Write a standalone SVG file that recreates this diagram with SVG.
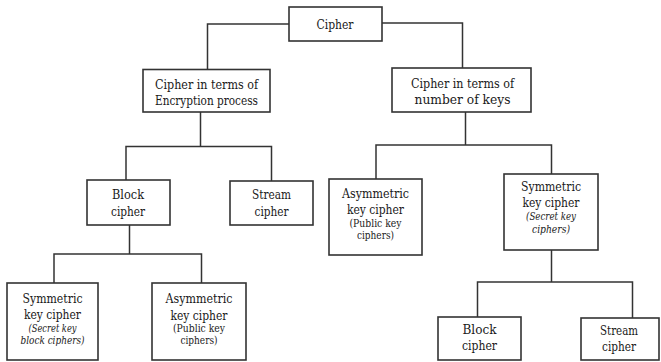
<svg xmlns="http://www.w3.org/2000/svg" width="661" height="362" viewBox="0 0 661 362">
<style>
rect.box{fill:#fff;stroke:#333;stroke-width:1.6}
text{fill:#1a1a1a;text-anchor:middle;font-family:"DejaVu Serif Condensed","DejaVu Serif",serif;font-stretch:condensed}
.m{font-size:13.8px}
.s{font-size:11px}
.i{font-style:italic}
#connectors path{fill:none;stroke:#333;stroke-width:1.5}
</style>
<rect width="661" height="362" fill="#fff"/>
<g id="connectors">
<path d="M289,24 H207.5 V69"/>
<path d="M382,23 H462.5 V68"/>
<path d="M200.5,112 V146.5"/>
<path d="M126,180 V146.5 H271.5 V181"/>
<path d="M129.5,225 V254"/>
<path d="M54,283 V254 H201.5 V283"/>
<path d="M465.5,112 V145"/>
<path d="M376,179 V145 H551.5 V174"/>
<path d="M551.5,250 V282"/>
<path d="M477.5,317 V282 H632.5 V318"/>
</g>
<g id="cipher">
<rect class="box" x="289" y="7" width="93" height="34"/>
<text class="m" x="335" y="28.5" textLength="37" lengthAdjust="spacingAndGlyphs">Cipher</text>
</g>
<g id="enc">
<rect class="box" x="143" y="69.5" width="127" height="42.5"/>
<text class="m" x="206.5" y="89" textLength="103" lengthAdjust="spacingAndGlyphs">Cipher in terms of</text>
<text class="m" x="206.5" y="105" textLength="103" lengthAdjust="spacingAndGlyphs">Encryption process</text>
</g>
<g id="keys">
<rect class="box" x="392" y="68" width="139" height="44"/>
<text class="m" x="462.5" y="88" textLength="103" lengthAdjust="spacingAndGlyphs">Cipher in terms of</text>
<text class="m" x="462.5" y="104" textLength="96" lengthAdjust="spacingAndGlyphs">number of keys</text>
</g>
<g id="block-l">
<rect class="box" x="87" y="180" width="83" height="45"/>
<text class="m" x="128" y="199" textLength="32" lengthAdjust="spacingAndGlyphs">Block</text>
<text class="m" x="128" y="216" textLength="34" lengthAdjust="spacingAndGlyphs">cipher</text>
</g>
<g id="stream-l">
<rect class="box" x="230" y="181" width="83" height="44"/>
<text class="m" x="271.5" y="199" textLength="39" lengthAdjust="spacingAndGlyphs">Stream</text>
<text class="m" x="271.5" y="216" textLength="34" lengthAdjust="spacingAndGlyphs">cipher</text>
</g>
<g id="sym-l">
<rect class="box" x="7" y="283" width="91" height="77"/>
<text class="m" x="52.5" y="303" textLength="60" lengthAdjust="spacingAndGlyphs">Symmetric</text>
<text class="m" x="52.5" y="319" textLength="57" lengthAdjust="spacingAndGlyphs">key cipher</text>
<text class="s i" x="52.5" y="332" textLength="48" lengthAdjust="spacingAndGlyphs">(Secret key</text>
<text class="s i" x="52.5" y="344" textLength="64" lengthAdjust="spacingAndGlyphs">block ciphers)</text>
</g>
<g id="asym-l">
<rect class="box" x="152" y="283" width="94" height="77"/>
<text class="m" x="199" y="303" textLength="67" lengthAdjust="spacingAndGlyphs">Asymmetric</text>
<text class="m" x="199" y="320" textLength="57" lengthAdjust="spacingAndGlyphs">key cipher</text>
<text class="s" x="199" y="332" textLength="52" lengthAdjust="spacingAndGlyphs">(Public key</text>
<text class="s" x="199" y="344" textLength="37" lengthAdjust="spacingAndGlyphs">ciphers)</text>
</g>
<g id="asym-r">
<rect class="box" x="329" y="179" width="93" height="76"/>
<text class="m" x="375.5" y="198" textLength="67" lengthAdjust="spacingAndGlyphs">Asymmetric</text>
<text class="m" x="375.5" y="214" textLength="57" lengthAdjust="spacingAndGlyphs">key cipher</text>
<text class="s" x="375.5" y="227" textLength="52" lengthAdjust="spacingAndGlyphs">(Public key</text>
<text class="s" x="375.5" y="239" textLength="37" lengthAdjust="spacingAndGlyphs">ciphers)</text>
</g>
<g id="sym-r">
<rect class="box" x="504" y="174" width="94" height="76"/>
<text class="m" x="551" y="191" textLength="60" lengthAdjust="spacingAndGlyphs">Symmetric</text>
<text class="m" x="551" y="207" textLength="57" lengthAdjust="spacingAndGlyphs">key cipher</text>
<text class="s i" x="551" y="220" textLength="50" lengthAdjust="spacingAndGlyphs">(Secret key</text>
<text class="s i" x="551" y="233" textLength="38" lengthAdjust="spacingAndGlyphs">ciphers)</text>
</g>
<g id="block-r">
<rect class="box" x="438" y="317" width="83" height="43"/>
<text class="m" x="479.5" y="334" textLength="34" lengthAdjust="spacingAndGlyphs">Block</text>
<text class="m" x="479.5" y="350" textLength="35" lengthAdjust="spacingAndGlyphs">cipher</text>
</g>
<g id="stream-r">
<rect class="box" x="581" y="318" width="78" height="42"/>
<text class="m" x="619" y="335" textLength="38" lengthAdjust="spacingAndGlyphs">Stream</text>
<text class="m" x="619" y="351" textLength="34" lengthAdjust="spacingAndGlyphs">cipher</text>
</g>
</svg>
